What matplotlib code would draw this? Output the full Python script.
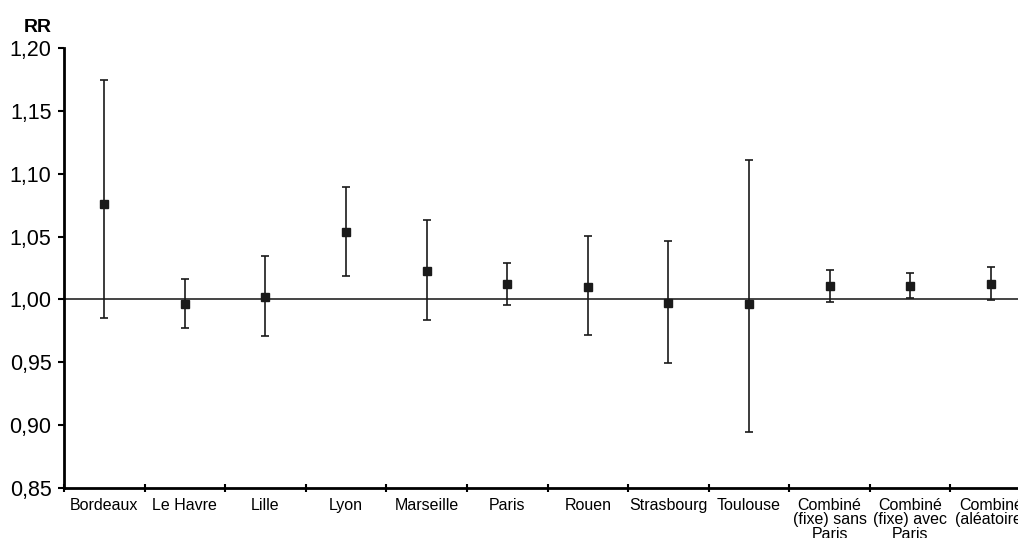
import matplotlib
matplotlib.use('Agg')
import matplotlib.pyplot as plt

plt.rcParams['font.family'] = ['Liberation Sans', 'DejaVu Sans']

villes = ['Bordeaux', 'Le Havre', 'Lille', 'Lyon', 'Marseille', 'Paris', 'Rouen',
          'Strasbourg', 'Toulouse', 'Combiné\n(fixe) sans\nParis',
          'Combiné\n(fixe) avec\nParis', 'Combiné\n(aléatoire)']
rr = [1.076, 0.9965, 1.002, 1.0535, 1.0228, 1.012, 1.0098, 0.997, 0.9965, 1.0105, 1.011, 1.0125]
ic_bas = [0.9855, 0.9773, 0.9711, 1.0188, 0.9839, 0.9957, 0.9714, 0.9496, 0.8945, 0.9983, 1.0012, 0.9998]
ic_haut = [1.1746, 1.0162, 1.0343, 1.0897, 1.0633, 1.0292, 1.0502, 1.0467, 1.1111, 1.0232, 1.0211, 1.0255]
yticks = [0.85, 0.90, 0.95, 1.00, 1.05, 1.10, 1.15, 1.20]

fig = plt.figure(figsize=(10.18, 5.38), dpi=100)
ax = fig.add_axes([64 / 1018, 50 / 538, 967 / 1018, 440 / 538])

x = list(range(len(villes)))
err = [[m - b for m, b in zip(rr, ic_bas)], [h - m for m, h in zip(rr, ic_haut)]]
ax.axhline(1.0, color='#444444', lw=1.4, zorder=1)
ax.errorbar(x, rr, yerr=err, fmt='s', color='#1a1a1a', ecolor='#1a1a1a',
            markersize=5.8, elinewidth=1.2, capsize=2.6, capthick=1.2, zorder=3)

ax.set_xlim(-0.5, len(villes) - 0.5)
ax.set_ylim(0.85, 1.20)
ax.set_yticks(yticks)
ax.set_yticklabels([f'{v:.2f}'.replace('.', ',') for v in yticks], fontsize=15.5)
ax.set_xticks([i + 0.5 for i in range(-1, len(villes))])
ax.set_xticklabels([])
ax.set_xticks(x, minor=True)
ax.set_xticklabels(villes, minor=True, fontsize=11.5, linespacing=0.95, va='top')
ax.tick_params(axis='x', which='minor', length=0, pad=7)
ax.tick_params(axis='x', which='major', direction='inout', length=6, width=1.5)
ax.tick_params(axis='y', direction='out', length=4, width=1.5, pad=5)

for s in ['top', 'right']:
    ax.spines[s].set_visible(False)
for s in ['left', 'bottom']:
    ax.spines[s].set_linewidth(2)

fig.text(52 / 1018, 1 - 32 / 538, 'RR', ha='right', va='baseline', fontsize=14, fontweight='bold')

fig.savefig('out.png', dpi=100)
